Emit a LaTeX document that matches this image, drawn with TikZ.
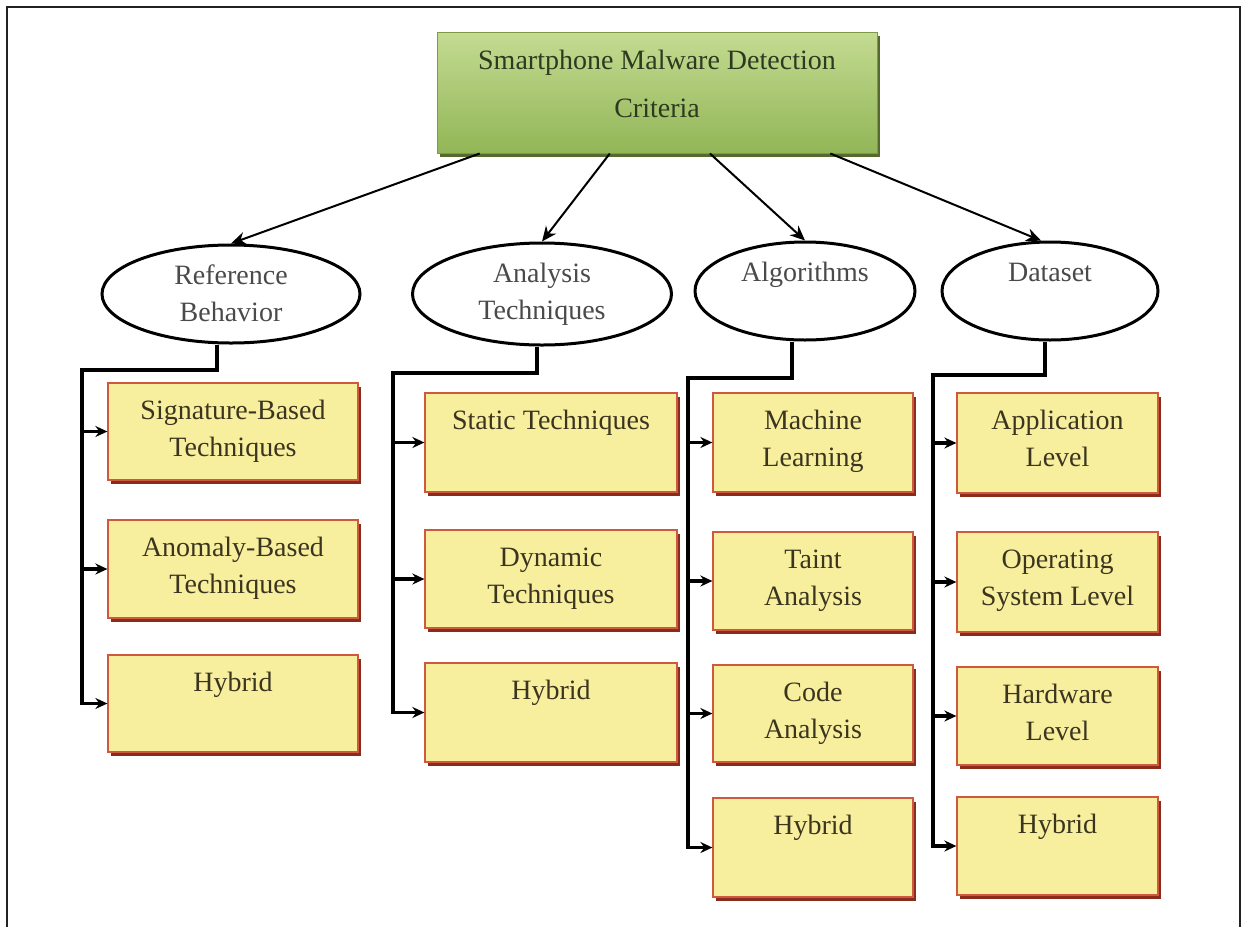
\documentclass[tikz,border=0pt]{standalone}
\usepackage{fontspec}
\setmainfont{Liberation Serif}
\usetikzlibrary{arrows.meta,shadows,calc,shapes.geometric}
\definecolor{boxfill}{HTML}{F7EF9E}
\definecolor{boxline}{HTML}{D0583F}
\definecolor{boxshadow}{HTML}{8A2C1C}
\definecolor{topA}{HTML}{C4DB92}
\definecolor{topB}{HTML}{92B657}
\definecolor{topline}{HTML}{7D9B45}
\definecolor{topshadow}{HTML}{56692F}
\definecolor{toptext}{HTML}{2E3A20}
\definecolor{elltext}{HTML}{4A4A4A}
\definecolor{boxtext}{HTML}{3B3520}
\definecolor{framec}{HTML}{222222}
\newcommand{\toptxt}[2]{\raisebox{#1}[0pt][0pt]{\makebox[0pt]{\parbox[t]{480pt}{\centering #2}}}}
\begin{document}
\begin{tikzpicture}[x=1pt,y=-1pt,
  every node/.style={font=\fontsize{28}{37}\selectfont},
  ybox/.style={draw=boxline, line width=1.2pt, fill=boxfill, inner sep=0pt,
    minimum height=98pt, text=boxtext,
    drop shadow={shadow xshift=3pt, shadow yshift=-4pt, fill=boxshadow, opacity=1}},
  ell/.style={ellipse, draw=black, line width=3pt, fill=white, inner sep=0pt,
    minimum height=98pt, text=elltext},
  topbox/.style={draw=topline, line width=1pt, top color=topA, bottom color=topB,
    inner sep=0pt, minimum width=440pt, minimum height=121pt, text=toptext,
    drop shadow={shadow xshift=2.5pt, shadow yshift=-3.5pt, fill=topshadow, opacity=1}},
  conn/.style={line width=3.2pt, black, -{Stealth[length=12pt,width=11pt]}},
  arr/.style={line width=2pt, black, -{Stealth[length=15pt,width=13pt]}}
]
\useasboundingbox (0,0) rectangle (1247,927);
\fill[white] (0,0) rectangle (1247,927);
\draw[line width=1.5pt, framec] (7,927) -- (7,7) -- (1240,7) -- (1240,927);

% top
\node[topbox] (top) at (657,92.5) {\toptxt{23.5pt}{Smartphone Malware Detection\\[11pt]Criteria}};

% ellipses
\node[ell, minimum width=258pt] (e1) at (231,294) {\toptxt{10pt}{Reference\\Behavior}};
\node[ell, minimum width=259pt, minimum height=102pt] (e2) at (542,294) {\toptxt{12pt}{Analysis\\Techniques}};
\node[ell, minimum width=220pt] (e3) at (805,291) {\toptxt{10pt}{Algorithms}};
\node[ell, minimum width=216pt] (e4) at (1050,291) {\toptxt{10pt}{Dataset}};

% top arrows
\coordinate (s1) at ($(top.south west)!0.098!(top.south east)$);
\coordinate (s2) at ($(top.south west)!0.393!(top.south east)$);
\coordinate (s3) at ($(top.south west)!0.620!(top.south east)$);
\coordinate (s4) at ($(top.south west)!0.893!(top.south east)$);
\draw[arr] (s1) -- (e1.north);
\draw[arr] (s2) -- (e2.north);
\draw[arr] (s3) -- (e3.north);
\draw[arr] (s4) -- (e4.100);

% column 1
\node[ybox, minimum width=250pt, minimum height=97pt] (b11) at (233,431.5) {\toptxt{12.5pt}{Signature-Based\\Techniques}};
\node[ybox, minimum width=250pt] (b12) at (233,569) {\toptxt{13pt}{Anomaly-Based\\Techniques}};
\node[ybox, minimum width=250pt, minimum height=97pt] (b13) at (233,703.5) {\toptxt{12.5pt}{Hybrid}};

% column 2
\node[ybox, minimum width=252pt, minimum height=99pt] (b21) at (551,442.5) {\toptxt{13.5pt}{Static Techniques}};
\node[ybox, minimum width=252pt] (b22) at (551,579) {\toptxt{13pt}{Dynamic\\Techniques}};
\node[ybox, minimum width=252pt, minimum height=99pt] (b23) at (551,712.5) {\toptxt{13.5pt}{Hybrid}};

% column 3
\node[ybox, minimum width=200pt, minimum height=99pt] (b31) at (813,442.5) {\toptxt{13.5pt}{Machine\\Learning}};
\node[ybox, minimum width=200pt] (b32) at (813,581) {\toptxt{13pt}{Taint\\Analysis}};
\node[ybox, minimum width=200pt, minimum height=97pt] (b33) at (813,713.5) {\toptxt{12.5pt}{Code\\Analysis}};
\node[ybox, minimum width=200pt, minimum height=99pt] (b34) at (813,847.5) {\toptxt{13.5pt}{Hybrid}};

% column 4
\node[ybox, minimum width=201pt, minimum height=100pt] (b41) at (1057.5,443) {\toptxt{14pt}{Application\\Level}};
\node[ybox, minimum width=201pt, minimum height=100pt] (b42) at (1057.5,582) {\toptxt{14pt}{Operating\\System Level}};
\node[ybox, minimum width=201pt] (b43) at (1057.5,716) {\toptxt{13pt}{Hardware\\Level}};
\node[ybox, minimum width=201pt] (b44) at (1057.5,846) {\toptxt{13pt}{Hybrid}};

% trunks
\coordinate (c1) at (82,370);
\coordinate (c2) at (393,373);
\coordinate (c3) at (688,378);
\coordinate (c4) at (933,375);

\draw[conn] ($(e1.south)+(-14,0)$) |- (c1) |- (b13.west);
\draw[conn] (c1 |- b11.west) -- (b11.west);
\draw[conn] (c1 |- b12.west) -- (b12.west);

\draw[conn] ($(e2.south)+(-5,0)$) |- (c2) |- (b23.west);
\draw[conn] (c2 |- b21.west) -- (b21.west);
\draw[conn] (c2 |- b22.west) -- (b22.west);

\draw[conn] ($(e3.south)+(-13,0)$) |- (c3) |- (b34.west);
\draw[conn] (c3 |- b31.west) -- (b31.west);
\draw[conn] (c3 |- b32.west) -- (b32.west);
\draw[conn] (c3 |- b33.west) -- (b33.west);

\draw[conn] ($(e4.south)+(-5,0)$) |- (c4) |- (b44.west);
\draw[conn] (c4 |- b41.west) -- (b41.west);
\draw[conn] (c4 |- b42.west) -- (b42.west);
\draw[conn] (c4 |- b43.west) -- (b43.west);
\end{tikzpicture}
\end{document}
